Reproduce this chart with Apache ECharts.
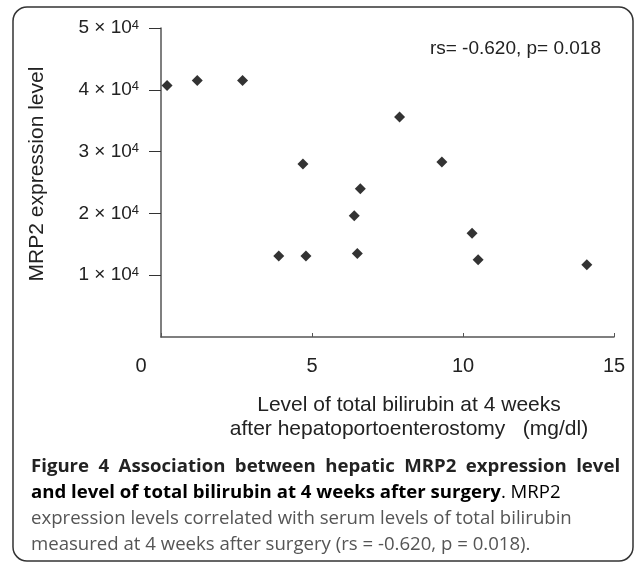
<!DOCTYPE html>
<html>
<head>
<meta charset="utf-8">
<script src="https://cdn.jsdelivr.net/npm/echarts@6/dist/echarts.min.js"></script>
<style>
  html, body { margin: 0; padding: 0; background: #fff; }
  #main { width: 635px; height: 564px; }
</style>
</head>
<body>
<div id="main"></div>
<script>
// level of total bilirubin at 4 weeks (mg/dl)
var bilirubin = [0.2, 1.2, 2.7, 4.7, 7.9, 9.3, 6.6, 6.4, 3.9, 4.8, 6.5, 10.3, 10.5, 14.1];
// hepatic MRP2 expression level
var mrp2 = [40700, 41500, 41500, 28000, 35600, 28300, 24000, 19600, 13100, 13100, 13500, 16800, 12500, 11700];
var yTicks = [10000, 20000, 30000, 40000, 50000];
var xMax = 15;
var yMax = 50000;

var statText = "rs= -0.620, p= 0.018";
var xName = ["Level of total bilirubin at 4 weeks", "after hepatoportoenterostomy   (mg/dl)"];
var yName = "MRP2 expression level";

var points = bilirubin.map(function (x, i) {
  return [x, mrp2[i]];
});

var plotFont = "Liberation Sans";
var capFont = "Open Sans";
var capSize = 18.6;

// first caption line is justified in the original, so widen its word gaps
var capLine1 = "Figure 4 Association between hepatic MRP2 expression level".split(" ").join(" \u2005");

var myChart = echarts.init(document.getElementById("main"));
myChart.setOption({
  animation: false,
  grid: {
    left: 161,
    top: 28,
    width: 453,
    height: 309,
  },
  xAxis: {
    type: "value",
    min: 0,
    max: xMax,
    interval: 5,
    splitLine: { show: false },
    axisLine: { show: true, lineStyle: { color: "#555", width: 1.5 } },
    axisTick: { show: true, inside: true, length: 4, lineStyle: { color: "#555" } },
    axisLabel: {
      margin: 19,
      fontSize: 20,
      fontFamily: plotFont,
      color: "#222",
      formatter: function (v) {
        return v === 0 ? "{z|0}" : String(v);
      },
      rich: {
        z: { fontSize: 20, fontFamily: plotFont, color: "#222", padding: [0, 40, 0, 0] },
      },
    },
  },
  yAxis: {
    type: "value",
    min: 0,
    max: yMax,
    interval: 10000,
    splitLine: { show: false },
    axisLine: { show: true, lineStyle: { color: "#555", width: 1.5 } },
    axisTick: { show: true, length: 12, customValues: yTicks, lineStyle: { color: "#333" } },
    axisLabel: {
      margin: 22,
      customValues: yTicks,
      formatter: function (v) {
        return "{n|" + v / 10000 + " × 10}{s|4}";
      },
      rich: {
        n: { fontSize: 19, fontFamily: plotFont, color: "#222" },
        s: { fontSize: 13, fontFamily: plotFont, color: "#222", verticalAlign: "top" },
      },
    },
  },
  series: [
    {
      type: "scatter",
      symbol: "diamond",
      symbolSize: 11,
      itemStyle: { color: "#000" },
      data: points,
    },
  ],
  graphic: [
    {
      type: "rect",
      shape: { x: 13, y: 7, width: 620, height: 554, r: 14 },
      style: { fill: "none", stroke: "#333", lineWidth: 1.5 },
    },
    {
      type: "text",
      x: 601,
      y: 49,
      style: {
        text: statText,
        fontSize: 19,
        fontFamily: plotFont,
        fill: "#222",
        align: "right",
        verticalAlign: "middle",
      },
    },
    {
      type: "text",
      x: 37,
      y: 174,
      rotation: Math.PI / 2,
      style: {
        text: yName,
        fontSize: 21,
        fontFamily: plotFont,
        fill: "#222",
        align: "center",
        verticalAlign: "middle",
      },
    },
    {
      type: "text",
      x: 409,
      y: 405,
      style: {
        text: xName[0],
        fontSize: 21,
        fontFamily: plotFont,
        fill: "#222",
        align: "center",
        verticalAlign: "middle",
      },
    },
    {
      type: "text",
      x: 409,
      y: 429,
      style: {
        text: xName[1],
        fontSize: 21,
        fontFamily: plotFont,
        fill: "#222",
        align: "center",
        verticalAlign: "middle",
      },
    },
    // caption
    {
      type: "text",
      x: 31,
      y: 467,
      style: {
        text: capLine1,
        fontSize: capSize,
        fontWeight: "bold",
        fontFamily: capFont,
        fill: "#222",
        verticalAlign: "middle",
      },
    },
    {
      type: "text",
      x: 31,
      y: 493,
      style: {
        text: "{b|and level of total bilirubin at 4 weeks after surgery}{r|. MRP2}",
        verticalAlign: "middle",
        rich: {
          b: { fontSize: capSize, fontWeight: "bold", fontFamily: capFont, color: "#222" },
          r: { fontSize: capSize, fontFamily: capFont, color: "#555" },
        },
      },
    },
    {
      type: "text",
      x: 31,
      y: 519,
      style: {
        text: "expression levels correlated with serum levels of total bilirubin",
        fontSize: capSize,
        fontFamily: capFont,
        fill: "#555",
        verticalAlign: "middle",
      },
    },
    {
      type: "text",
      x: 31,
      y: 545,
      style: {
        text: "measured at 4 weeks after surgery (rs = -0.620, p = 0.018).",
        fontSize: capSize,
        fontFamily: capFont,
        fill: "#555",
        verticalAlign: "middle",
      },
    },
  ],
});
</script>
</body>
</html>
